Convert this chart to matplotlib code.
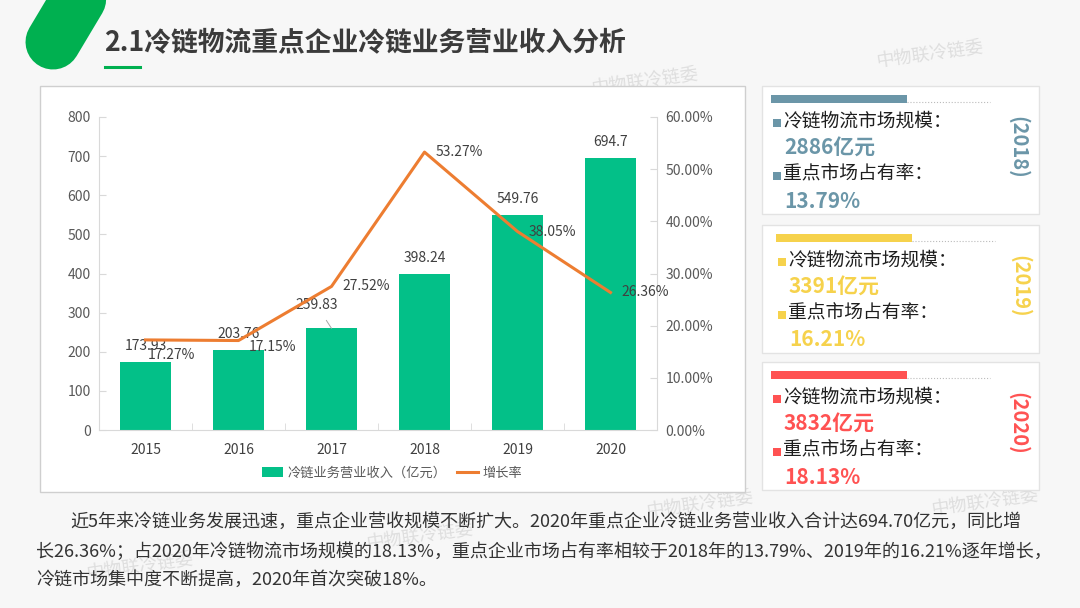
import numpy as np
import matplotlib
matplotlib.use('Agg')
import matplotlib.pyplot as plt
from matplotlib.patches import Rectangle
from matplotlib.lines import Line2D

plt.rcParams['font.family'] = ['Noto Sans CJK SC', 'DejaVu Sans']

# chart data
years = ['2015', '2016', '2017', '2018', '2019', '2020']
revenue = [173.93, 203.76, 259.83, 398.24, 549.76, 694.7]
growth = [17.27, 17.15, 27.52, 53.27, 38.05, 26.36]
bar_name = '冷链业务营业收入（亿元）'
line_name = '增长率'

# side panels
panel_years = ['2018', '2019', '2020']
market_size = [2886, 3391, 3832]
market_share = [13.79, 16.21, 18.13]
panel_colors = ['#6B96A8', '#F6D24C', '#FF5252']

title = '2.1冷链物流重点企业冷链业务营业收入分析'
para = ['近5年来冷链业务发展迅速，重点企业营收规模不断扩大。2020年重点企业冷链业务营业收入合计达694.70亿元，同比增',
        '长26.36%；占2020年冷链物流市场规模的18.13%，重点企业市场占有率相较于2018年的13.79%、2019年的16.21%逐年增长，',
        '冷链市场集中度不断提高，2020年首次突破18%。']

GREEN = '#00B050'
BAR_C = '#03C088'
LINE_C = '#ED7D31'
GRID_C = '#D9D9D9'
TXT = '#404040'

fig = plt.figure(figsize=(10.8, 6.08), dpi=100, facecolor='#F7F7F7')

# decoration layer in pixel coordinates (y down)
deco = fig.add_axes([0, 0, 1, 1])
deco.set_xlim(0, 1080)
deco.set_ylim(608, 0)
deco.axis('off')

deco.add_line(Line2D([96, 53], [-30, 42], lw=39.6, color=GREEN, solid_capstyle='round'))
deco.text(104, 42, title, fontsize=19.3, fontweight='bold', color='#3B3B3B', ha='left', va='center')
deco.add_line(Line2D([105, 140], [67, 67], lw=2.2, color=GREEN))

# watermarks
for wx, wy in [(930, 55), (645, 82), (700, 505), (420, 537), (140, 567), (985, 503)]:
    deco.text(wx, wy, '中物联冷链委', fontsize=13, color='#DEDEDE', rotation=8,
              ha='center', va='center', zorder=0.5)

deco.add_patch(Rectangle((40, 86), 705, 406, facecolor='white', edgecolor='#CFCFCF', lw=1, zorder=1))

# side panels
panel_tops = [86, 225, 362]
panel_dx = [0, 5, 0]
for i in range(3):
    top = panel_tops[i]
    dx = panel_dx[i]
    c = panel_colors[i]
    deco.add_patch(Rectangle((762, top), 277, 128, facecolor='white', edgecolor='#E3E3E3', lw=1, zorder=1))
    deco.add_patch(Rectangle((771 + dx, top + 9), 136, 8, facecolor=c, edgecolor='none', zorder=2))
    deco.add_line(Line2D([907 + dx, 990 + dx], [top + 16, top + 16], lw=0.8, ls=':', color='#BBBBBB', zorder=2))
    rows = [(top + 35, '冷链物流市场规模：', True), (top + 62, f'{market_size[i]}亿元', False),
            (top + 88, '重点市场占有率：', True), (top + 115, f'{market_share[i]:.2f}%', False)]
    for ry, s, is_head in rows:
        if is_head:
            deco.add_patch(Rectangle((773 + dx, ry - 2), 8, 8, facecolor=c, edgecolor='none', zorder=2))
            deco.text(783 + dx, ry, s, fontsize=13.5, color='#1E1E1E', ha='left', va='center', zorder=3)
        else:
            deco.text(784 + dx, ry, s, fontsize=15, fontweight='bold', color=c, ha='left', va='center', zorder=3)
    deco.text(1018 + dx // 2, top + 61, f'({panel_years[i]})', fontsize=14.5, fontweight='bold', color=c,
              rotation=-90, ha='center', va='center', zorder=3)

# paragraph
deco.text(70, 522, para[0], fontsize=13, color='#333333', ha='left', va='center')
deco.text(36, 552, para[1], fontsize=13, color='#333333', ha='left', va='center')
deco.text(36, 580, para[2], fontsize=13, color='#333333', ha='left', va='center')

# main chart
ax = fig.add_axes([99 / 1080, 1 - 430 / 608, 558 / 1080, 313 / 608])
ax.set_facecolor('none')
x = np.arange(len(years))
bars = ax.bar(x, revenue, width=0.55, color=BAR_C, label=bar_name, zorder=2)
ax.set_xlim(-0.5, 5.5)
ax.set_ylim(0, 800)
ax.set_yticks(range(0, 801, 100))
ax.set_xticks(x)
ax.set_xticklabels(years)
ax.set_xticks(np.arange(0.5, 5, 1), minor=True)
ax.tick_params(axis='x', which='major', length=0, pad=9, labelsize=10, labelcolor=TXT)
ax.tick_params(axis='x', which='minor', length=5, direction='in', color=GRID_C)
ax.tick_params(axis='y', length=5, direction='in', color=GRID_C, pad=6, labelsize=10, labelcolor='#595959')
for s in ['top', 'right']:
    ax.spines[s].set_visible(False)
for s in ['left', 'bottom']:
    ax.spines[s].set_color(GRID_C)

ax2 = ax.twinx()
ax2.set_position(ax.get_position())
line, = ax2.plot(x, growth, color=LINE_C, lw=2.2, label=line_name, zorder=3)
ax2.set_ylim(0, 60)
ax2.set_yticks(range(0, 61, 10))
ax2.set_yticklabels([f'{v:.2f}%' for v in range(0, 61, 10)])
ax2.tick_params(axis='y', length=5, direction='in', color=GRID_C, pad=6, labelsize=10, labelcolor='#595959')
for s in ['top', 'left', 'bottom']:
    ax2.spines[s].set_visible(False)
ax2.spines['right'].set_color(GRID_C)

# bar labels (offsets in points)
bar_off = [(0, 11.5), (0, 11.5), (-11, 17), (0, 11.5), (0, 11.5), (0, 11.5)]
for i, v in enumerate(revenue):
    ox, oy = bar_off[i]
    kw = {}
    if i == 2:
        kw['arrowprops'] = dict(arrowstyle='-', color='#A6A6A6', lw=0.7, shrinkA=5, shrinkB=0)
    ax.annotate(f'{v:g}', (x[i], v), xytext=(ox, oy), textcoords='offset points',
                ha='center', va='center', fontsize=10, color=TXT, zorder=4, **kw)

# line labels
line_off = [(1.4, -10.8), (7.2, -5), (8, 0), (8, 0), (8, 0), (8, 0)]
for i, v in enumerate(growth):
    ox, oy = line_off[i]
    ax2.annotate(f'{v:.2f}%', (x[i], v), xytext=(ox, oy), textcoords='offset points',
                 ha='left', va='center', fontsize=10, color=TXT, zorder=4)

fig.legend([bars, line], [bar_name, line_name], loc='center', ncol=2,
           bbox_to_anchor=(392 / 1080, 1 - 473 / 608), frameon=False, fontsize=9.5,
           handlelength=1.6, handleheight=0.8, columnspacing=0.8, handletextpad=0.3,
           labelcolor='#595959')

fig.savefig('out.png', dpi=100, facecolor=fig.get_facecolor())
